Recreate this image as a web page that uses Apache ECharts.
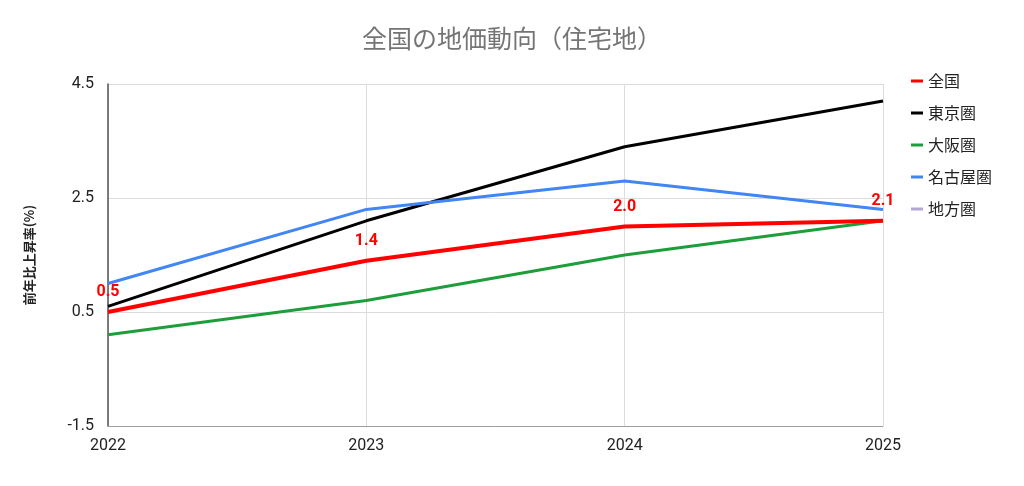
<!DOCTYPE html>
<html><head><meta charset="utf-8">
<script src="https://cdn.jsdelivr.net/npm/echarts@6/dist/echarts.min.js"></script>
<style>html,body{margin:0;padding:0;background:#fff}#c{width:1024px;height:486px}</style>
</head><body><div id="c"></div>
<script>
const years = ['2022','2023','2024','2025'];
const zenkoku = [0.5, 1.4, 2.0, 2.1];
const tokyo = [0.6, 2.1, 3.4, 4.2];
const osaka = [0.1, 0.7, 1.5, 2.1];
const nagoya = [1.0, 2.3, 2.8, 2.3];
const chiho = [];
const font = '"Noto Sans CJK JP", "Noto Sans", sans-serif';
const chart = echarts.init(document.getElementById('c'));
chart.setOption({
  backgroundColor:'#fff',
  animation:false,
  textStyle:{fontFamily:font},
  title:{text:'全国の地価動向（住宅地）',left:'center',top:21,textStyle:{fontFamily:font,fontSize:25,fontWeight:'normal',color:'#757575'}},
  legend:{orient:'vertical',left:906,top:68,itemGap:16,icon:'rect',itemWidth:12,itemHeight:3,
    textStyle:{fontFamily:font,fontSize:16,color:'#222'},
    data:['全国','東京圏','大阪圏','名古屋圏','地方圏']},
  grid:{left:108,right:141,top:84,bottom:60,containLabel:false},
  xAxis:{type:'category',data:years,boundaryGap:false,
    axisLine:{show:true,onZero:false,lineStyle:{color:'#9e9e9e'}},axisTick:{show:false},
    axisLabel:{color:'#222',fontSize:16,margin:12,fontFamily:'Roboto, sans-serif'},
    splitLine:{show:true,lineStyle:{color:'#dcdcdc'}}},
  yAxis:{type:'value',min:-1.5,max:4.5,interval:2,
    name:'前年比上昇率(%)',nameLocation:'middle',nameGap:72,nameRotate:90,
    nameTextStyle:{fontFamily:font,fontSize:13,color:'#222',fontWeight:'bold'},
    axisLine:{show:true,lineStyle:{color:'#555',width:1.5}},axisTick:{show:false},
    axisLabel:{color:'#222',fontSize:16,margin:14,fontFamily:'Roboto, sans-serif',formatter:v=>v.toFixed(1)},
    splitLine:{show:true,lineStyle:{color:'#dcdcdc'}}},
  color:['#ff0000','#000000','#1e9e3a','#4285f4','#b4a7d6'],
  series:[
    {name:'全国',type:'line',data:zenkoku,symbol:'circle',symbolSize:0,showSymbol:true,z:5,lineStyle:{width:4,color:'#ff0000'},itemStyle:{color:'#ff0000'},
      label:{show:true,position:'top',distance:12,color:'#ff0000',fontWeight:'bold',fontSize:16,fontFamily:'Roboto, sans-serif',formatter:p=>p.value.toFixed(1)}},
    {name:'東京圏',type:'line',data:tokyo,symbol:'none',lineStyle:{width:3,color:'#000'},itemStyle:{color:'#000'}},
    {name:'大阪圏',type:'line',data:osaka,symbol:'none',lineStyle:{width:3,color:'#1e9e3a'},itemStyle:{color:'#1e9e3a'}},
    {name:'名古屋圏',type:'line',data:nagoya,symbol:'none',lineStyle:{width:3,color:'#4285f4'},itemStyle:{color:'#4285f4'}},
    {name:'地方圏',type:'line',data:chiho,symbol:'none',lineStyle:{width:3,color:'#b4a7d6'},itemStyle:{color:'#b4a7d6'}}
  ]
});
</script></body></html>
